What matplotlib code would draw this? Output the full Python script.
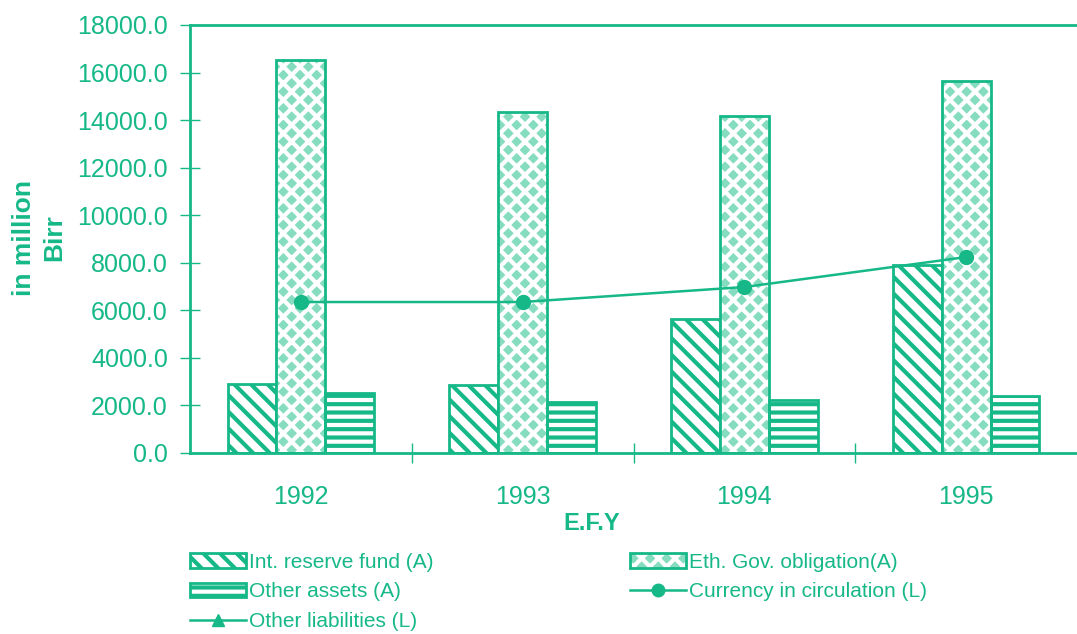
import numpy as np
import matplotlib.pyplot as plt
from matplotlib.patches import Patch
from matplotlib.lines import Line2D
from matplotlib.legend_handler import HandlerTuple

years = ['1992', '1993', '1994', '1995']
int_reserve = [2900, 2860, 5640, 7900]
eth_gov = [16530, 14340, 14170, 15640]
other_assets = [2520, 2140, 2230, 2400]
currency = [6350, 6350, 6980, 8240]
other_liabilities = []  # not shown in the chart, legend only

teal = '#16b888'
light = '#86dcbf'

plt.rcParams['font.family'] = ['Liberation Sans', 'DejaVu Sans']
plt.rcParams['hatch.linewidth'] = 3.0

fig = plt.figure(figsize=(10.77, 6.34), dpi=100)
ax = fig.add_axes([190 / 1077, 1 - 453 / 634, 1 - 190 / 1077, (453 - 25) / 634])

x = np.arange(len(years))
w = 0.22

ax.bar(x - w, int_reserve, w, facecolor='white', edgecolor=teal,
       hatch='\\\\', linewidth=2, zorder=2)
# diamond fill, then outline on top
ax.bar(x, eth_gov, w, facecolor=light, edgecolor='white',
       hatch='xx', linewidth=0, zorder=2)
ax.bar(x, eth_gov, w, fill=False, edgecolor=teal, linewidth=2, zorder=3)
ax.bar(x + w, other_assets, w, facecolor='white', edgecolor=teal,
       hatch='--', linewidth=2, zorder=2)

ax.plot(x, currency, color=teal, linewidth=1.8, marker='o', markersize=10, zorder=4)
ax.plot(other_liabilities, color=teal, linewidth=1.8, marker='^', markersize=9)

ax.set_xlim(-0.5, 3.5)
ax.set_ylim(0, 18000)
ax.set_yticks(np.arange(0, 18001, 2000))
ax.set_yticklabels([f'{v:.1f}' for v in np.arange(0, 18001, 2000)])
ax.set_xticks(x)
ax.set_xticklabels(years)
ax.set_xticks([0.5, 1.5, 2.5], minor=True)

ax.tick_params(axis='y', direction='inout', length=14, width=1, color=teal,
               labelcolor=teal, labelsize=18, pad=9)
ax.tick_params(axis='x', which='major', length=0, labelcolor=teal,
               labelsize=18, pad=23)
ax.tick_params(axis='x', which='minor', direction='inout', length=14,
               width=1, color=teal)

for s in ['left', 'bottom', 'top']:
    ax.spines[s].set_color(teal)
    ax.spines[s].set_linewidth(2)
ax.spines['right'].set_visible(False)

fig.text(592 / 1077, 1 - 523 / 634, 'E.F.Y', color=teal, fontsize=17,
         fontweight='bold', ha='center', va='center')
fig.text(39 / 1077, 1 - 238 / 634, 'in million\nBirr', color=teal,
         fontsize=19, fontweight='bold', rotation=90, ha='center',
         va='center', linespacing=1.35)

h_int = Patch(facecolor='white', edgecolor=teal, hatch='\\\\', linewidth=2)
h_eth = (Patch(facecolor=light, edgecolor='white', hatch='xx', linewidth=0),
         Patch(fill=False, edgecolor=teal, linewidth=2))
h_oth = Patch(facecolor='white', edgecolor=teal, hatch='--', linewidth=2)
h_cur = Line2D([], [], color=teal, linewidth=1.8, marker='o', markersize=9)
h_lia = Line2D([], [], color=teal, linewidth=1.8, marker='^', markersize=9)

leg = fig.legend([h_int, h_oth, h_lia, h_eth, h_cur],
                 ['Int. reserve fund (A)', 'Other assets (A)',
                  'Other liabilities (L)', 'Eth. Gov. obligation(A)',
                  'Currency in circulation (L)'],
                 handler_map={tuple: HandlerTuple(ndivide=1, pad=0)},
                 ncol=2, loc='upper left',
                 bbox_to_anchor=(190 / 1077, 1 - 553 / 634),
                 frameon=False, fontsize=15, handlelength=2.7,
                 handleheight=0.7, handletextpad=0.15, labelspacing=0.5,
                 columnspacing=9.4, borderpad=0, borderaxespad=0)
for t in leg.get_texts():
    t.set_color(teal)

fig.savefig('out.png', dpi=100)
